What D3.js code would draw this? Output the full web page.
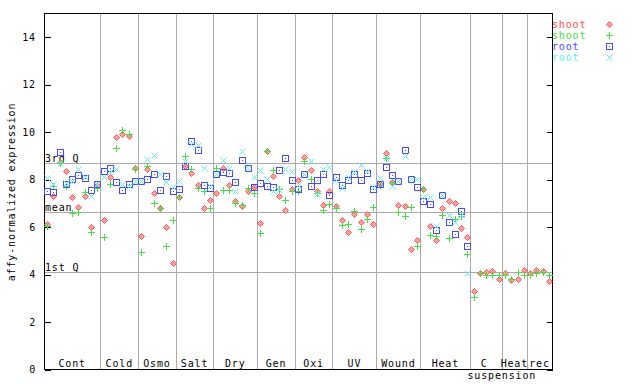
<!DOCTYPE html>
<html><head><meta charset="utf-8">
<script src="https://cdn.jsdelivr.net/npm/d3@7"></script>
<style>body{margin:0;background:#fff}svg{display:block}text{font-family:"DejaVu Sans Mono",monospace;font-size:10px;letter-spacing:0.85px}</style>
</head><body><svg id="c" width="640" height="384"></svg>
<script>
const groups = ["Cont","Cold","Osmo","Salt","Dry","Gen","Oxi","UV","Wound","Heat","C","Heat","rec"];
const groupSizes = [9,6,6,6,7,6,6,7,7,8,5,4,4];
const yTicks = [0,2,4,6,8,10,12,14];
const quartileLabels = ["3rd Q","mean","1st Q"];
const quartileValues = [8.67,6.62,4.09];
const seriesNames = ["shoot","shoot","root","root"];
const N = null;
const shootA = [6.11,7.30,8.74,8.34,7.24,6.82,7.28,5.97,7.75, 6.27,8.08,9.76,9.92,9.80,8.46, 5.61,8.42,7.41,6.78,5.99,4.47, 7.25,8.55,8.25,7.76,6.78,7.11, 7.41,8.46,7.76,7.08,6.87,7.51,7.67, 6.14,9.19,8.15,7.30,6.69,7.59, 7.97,8.94,8.39,7.48,6.92,7.52, 6.87,6.27,5.76,6.55,6.18,6.52,6.10, 7.80,9.10,7.90,6.90,6.86,5.05,5.43, 7.58,6.03,5.44,6.78,7.07,7.00,5.93,5.55, 3.28,4.06,4.09,4.13,3.78, 4.05,3.74,3.78,4.17, 4.05,4.17,4.13,3.70];
const shootB = [6.03,7.72,8.67,7.69,6.59,6.62,7.44,5.76,7.62, 5.55,7.79,9.33,10.06,9.90,8.42, 4.92,8.56,6.99,6.78,5.17,6.27, 7.25,8.97,8.43,7.62,7.51,6.78, 8.46,7.54,7.53,6.99,6.92,7.62,7.41, 5.72,9.19,8.39,7.59,7.11,7.48, 7.51,8.77,8.01,7.41,6.71,6.95, 6.78,6.07,6.10,6.66,5.89,6.31,6.83, 7.76,8.88,7.87,6.61,6.44,6.83,5.17, 7.58,5.64,5.61,6.48,5.51,6.31,6.45,4.85, 3.02,4.03,3.95,3.98,3.98, 3.95,3.78,4.09,3.98, 3.98,4.06,4.09,3.98];
const rootA = [7.51,7.46,9.15,7.80,8.02,8.18,8.05,7.53,7.79, 8.33,8.46,7.87,7.53,7.79,7.91, 7.91,8.00,8.21,7.53,8.14,7.49, 7.58,8.55,9.61,9.22,7.76,7.62, 8.21,8.32,8.25,7.87,8.80,8.49,7.67, 7.83,7.70,7.66,8.39,8.88,7.97, 7.59,8.21,7.70,7.95,8.21,7.34, 8.08,7.75,7.97,8.21,7.95,8.25,7.58, 7.79,8.53,8.17,7.93,9.22,8.00,7.66, 7.07,6.95,5.85,7.34,6.20,5.68,6.65,5.17, N,N,N,N,N, N,N,N,N, N,N,N,N];
const rootB = [8.05,7.80,8.70,7.85,7.93,8.42,8.08,7.30,7.80, 8.08,8.32,8.42,7.79,7.69,7.91, 7.91,8.84,9.02,8.21,7.90,7.66, 7.93,8.77,9.47,9.45,8.46,7.69, 8.20,8.81,8.49,7.51,9.18,8.49,8.08, 8.39,8.01,7.48,7.55,8.43,8.35, 7.75,8.21,8.77,7.37,8.43,8.51, 7.97,7.62,8.08,8.32,8.60,8.35,7.65, 8.04,8.90,7.73,7.93,8.98,8.00,8.00, 7.24,7.24,6.03,7.34,6.48,6.19,6.50,4.03, N,N,N,N,N, N,N,N,N, N,N,N,N];

const colors = ["#ff4d4d","#44e044","#4848ff","#5ef0f0"];
const shapes = ["diamond","plus","square","cross"];
const series = [shootA, shootB, rootA, rootB];

const svg = d3.select("#c");
svg.append("rect").attr("width",640).attr("height",384).attr("fill","#fff");
const L = 44, R = 552, T = 13, B = 369;
const total = d3.sum(groupSizes);
const x = d3.scaleLinear().domain([0,total]).range([L,R]);
const y = d3.scaleLinear().domain([0,15]).range([B,T]);
const px = v => Math.round(v) + 0.5;

const bounds = [0]; groupSizes.forEach(s => bounds.push(bounds[bounds.length-1]+s));
const g = svg.append("g").attr("shape-rendering","crispEdges");
g.selectAll("line.sep").data(bounds.slice(1,-1)).join("line")
  .attr("x1",d=>px(x(d))).attr("x2",d=>px(x(d))).attr("y1",T).attr("y2",B)
  .attr("stroke","#aaa");
g.selectAll("line.q").data(quartileValues).join("line")
  .attr("x1",L).attr("x2",R).attr("y1",d=>px(y(d))).attr("y2",d=>px(y(d)))
  .attr("stroke","#aaa");

g.append("rect").attr("x",L+0.5).attr("y",T+0.5).attr("width",R-L).attr("height",B-T)
  .attr("fill","none").attr("stroke","#000");

const yl = d3.axisRight(y).tickValues(yTicks).tickSize(6).tickFormat("");
svg.append("g").attr("transform",`translate(${L+0.5},0.5)`).call(yl)
  .call(a=>a.select(".domain").remove()).attr("shape-rendering","crispEdges");
const yr = d3.axisLeft(y).tickValues(yTicks).tickSize(6).tickFormat("");
svg.append("g").attr("transform",`translate(${R+0.5},0.5)`).call(yr)
  .call(a=>a.select(".domain").remove()).attr("shape-rendering","crispEdges");
svg.selectAll("text.yt").data(yTicks).join("text")
  .attr("x",36).attr("y",d=>y(d)+4).attr("text-anchor","end").text(d=>d);
svg.append("text").attr("transform",`translate(15,192) rotate(-90)`)
  .attr("text-anchor","middle").text("affy-normalized expression");

svg.selectAll("text.ql").data(quartileValues).join("text")
  .attr("x",L+1).attr("y",d=>y(d)-1).text((d,i)=>quartileLabels[i]);

svg.selectAll("text.gl").data(groups).join("text")
  .attr("x",(d,i)=>(x(bounds[i])+x(bounds[i+1]))/2 + (d==="C"?-2:0))
  .attr("y",366.5).attr("text-anchor","middle").text(d=>d);
svg.append("text").attr("x",x(bounds[11])).attr("y",378.5).attr("text-anchor","middle").text("suspension");

function marker(sel, shape, color){
  if(shape==="diamond"){
    sel.append("path").attr("d","M0,-3L3,0L0,3L-3,0Z").attr("fill","#ffa0a0").attr("stroke",color).attr("stroke-width",0.9);
  } else if(shape==="plus"){
    sel.append("path").attr("d","M-3,0H4M0.5,-3.5V3.5").attr("stroke",color).attr("stroke-width",1).attr("fill","none").attr("shape-rendering","crispEdges").attr("transform","translate(-0.5,0)");
  } else if(shape==="square"){
    sel.append("rect").attr("x",-3).attr("y",-3).attr("width",6).attr("height",6).attr("fill","none").attr("stroke",color).attr("shape-rendering","crispEdges");
    sel.append("rect").attr("x",-0.5).attr("y",-0.5).attr("width",1).attr("height",1).attr("fill",color).attr("shape-rendering","crispEdges");
  } else {
    sel.append("path").attr("d","M-3,-3L3,3M-3,3L3,-3").attr("stroke",color).attr("stroke-width",1).attr("fill","none");
  }
}
series.forEach((vals,si)=>{
  const pts = vals.map((v,i)=>({i,v})).filter(d=>d.v!==null);
  const sg = svg.append("g");
  pts.forEach(d=>{
    const m = sg.append("g").attr("transform",`translate(${px(x(d.i+0.5))},${px(y(d.v))})`);
    marker(m, shapes[si], colors[si]);
  });
});

seriesNames.forEach((name,i)=>{
  const ly = 24 + i*11;
  svg.append("text").attr("x",552).attr("y",ly+3.5).attr("fill",colors[i]).text(name);
  const m = svg.append("g").attr("transform",`translate(609.5,${ly+0.5})`);
  marker(m, shapes[i], colors[i]);
});
</script></body></html>
